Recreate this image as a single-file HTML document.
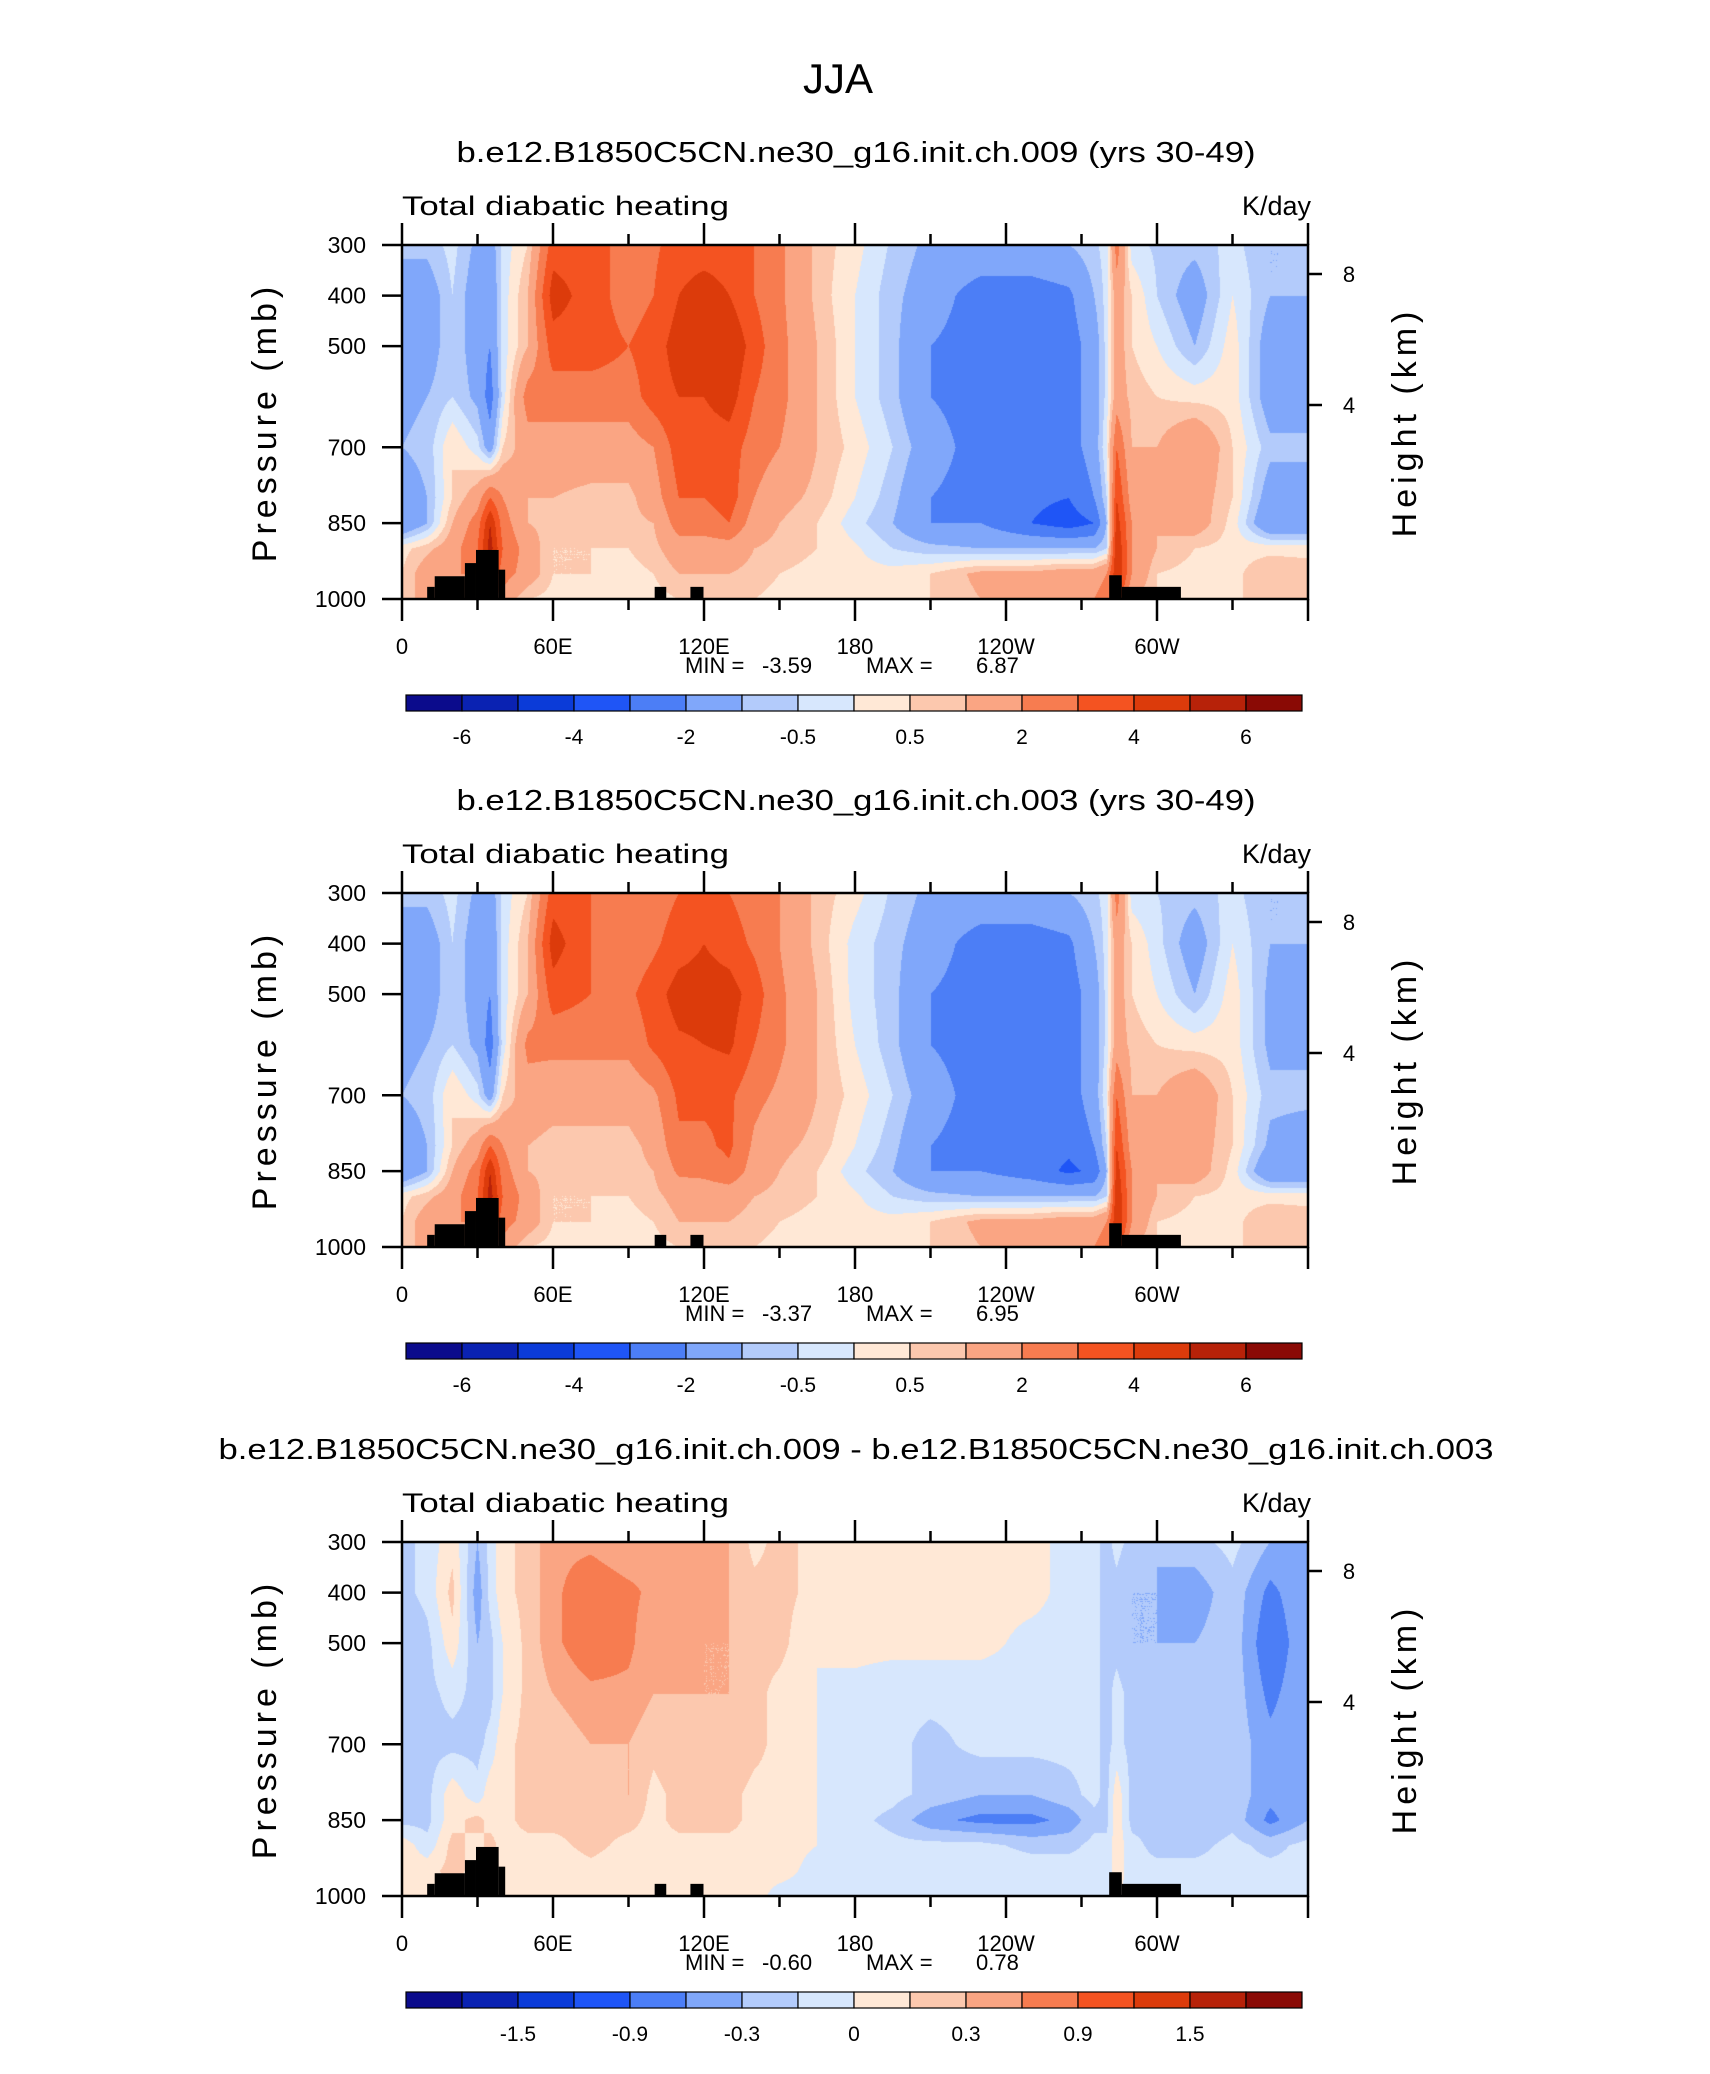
<!DOCTYPE html>
<html><head><meta charset="utf-8"><title>JJA Total diabatic heating</title>
<style>
html,body{margin:0;padding:0;background:#fff;}
#wrap{position:relative;width:1710px;height:2074px;overflow:hidden;background:#fff;}
canvas{position:absolute;}
svg{position:absolute;left:0;top:0;}
text{font-family:"Liberation Sans",sans-serif;fill:#000;}
</style></head>
<body>
<div id="wrap">
<canvas id="c0"></canvas>
<canvas id="c1"></canvas>
<canvas id="c2"></canvas>
<svg id="ov" width="1710" height="2074"></svg>
</div>
<script>
// ---- data ----
const lons = [0,10,20,30,35,40,50,60,75,90,100,110,120,130,140,150,165,180,195,210,230,250,265,275,280,284,290,300,315,330,345,360];
const levels = [300,400,500,600,700,800,850,900,950,1000];
const field009 = [
[-1,-0.8,-0.3,-1.2,-1.5,-0.3,0.5,3.5,3.5,2.5,2.8,3.5,3.5,3.5,3,2.2,0.8,0.2,-0.6,-1.2,-1.2,-1.2,-1,-0.6,-0.3,2.5,-0.3,-0.6,-0.8,-0.3,-1,-1],
[-1,-1.5,-0.5,-1.5,-1.8,-0.3,1,4.5,3.5,2.5,3,4,4.5,4,3,2.2,0.8,0,-0.8,-1.5,-2.5,-2.5,-2.2,-1,-0.3,1.5,0.5,-0.5,-1.5,0,-1,-1],
[-1.5,-1.5,-0.5,-1.5,-2,-0.3,1,3.5,3.5,3,3.5,4.5,4.5,5,3.5,2.3,1,0,-0.8,-2,-2.5,-2.5,-2.5,-1.5,-0.3,1.5,0.5,0,-1,0.3,-1.5,-1.5],
[-1.2,-1,-0.5,-1.2,-2.5,-0.3,2.5,2.5,2.5,2.5,3.5,4,4,4.5,3,2.3,1,0,-0.8,-2,-2.5,-2.5,-2.5,-1.5,-0.3,1.5,0.8,0.5,0.3,0.3,-1.5,-1.5],
[-1,-0.8,0.5,-0.3,-1.5,0.5,1.5,1.5,1.5,1.5,2,3.5,3.5,3.5,2.5,2,1,0.3,-0.5,-1.5,-2.5,-2.5,-2.5,-1.5,0,3,1,1,2,0.5,-0.8,-0.8],
[-1.5,-1,0.5,1.5,3,2,1,1,0.8,0.8,1.5,3,3,3.5,2,1.3,0.8,0,-0.8,-2,-2.5,-2.8,-3,-2,-0.5,4,1.5,1,1.5,0.5,-1.5,-1.5],
[-2,-1,1,2.5,5,2.5,1,0.8,0.5,0.8,1,2.5,2.5,3,1.5,1,0.5,-0.3,-1,-2,-2,-3,-3.5,-3,-1,4.5,2,1,1.5,0.3,-2,-2],
[0.3,0.8,1.5,3,5.5,3,1.5,0.5,0.5,0.5,0.8,1.5,1.5,1.5,1,0.8,0.5,0.1,-0.5,-0.8,-1,-1,-1,-1,-0.5,5,2,1,0.5,0.3,0.3,0.3],
[0.5,1.5,2,2,4,2.5,1.5,0.5,0.5,0.3,0.5,1,1,1,0.8,0.5,0.3,0.2,0.2,0.5,1.2,1.2,1.5,1.5,2,5,2,0.5,0.3,0.3,1,0.8],
[0.5,1.5,2,1.5,2,1.5,0.5,0.3,0.3,0.3,0.3,0.5,0.5,0.5,0.5,0.3,0.3,0.3,0.3,0.5,1,1,1.5,2,2.5,4,1,0.5,0.3,0.3,1,0.5]
];
const field003 = [
[-1,-0.8,-0.3,-1.2,-1.5,-0.3,0.5,3.5,3,2.5,2.5,3,3.5,3,2.5,2,0.8,0.2,-0.6,-1.2,-1.2,-1.2,-1,-0.6,-0.3,2.5,-0.3,-0.5,-0.8,-0.3,-1,-1],
[-1,-1.5,-0.5,-1.5,-1.8,-0.3,1,4.5,3,2.3,2.8,3.5,4,3.5,2.8,2,0.8,-0.2,-0.8,-1.5,-2.5,-2.5,-2.2,-1,-0.3,1.5,0.5,-0.3,-1.5,0,-1,-1],
[-1.5,-1.5,-0.5,-1.5,-2,-0.3,1,3.5,3,2.8,3.5,4.5,4.5,4.5,3.5,2.2,1,-0.2,-0.8,-2,-2.5,-2.5,-2.5,-1.5,-0.3,1.5,0.5,0,-1,0.3,-1.2,-1.2],
[-1.2,-1,-0.5,-1.2,-2.5,-0.3,2.3,2.3,2.3,2.3,3.2,3.8,4,4.2,3,2.2,1,0,-0.8,-2,-2.5,-2.5,-2.5,-1.5,-0.3,1.5,0.8,0.5,0.3,0.3,-1.2,-1.2],
[-1,-0.8,0.5,-0.3,-1.5,0.5,1.5,1.3,1.3,1.3,1.8,3.2,3.2,3.2,2.3,1.8,1,0.3,-0.5,-1.5,-2.5,-2.5,-2.5,-1.5,0,3,1,1,1.8,0.5,-0.8,-0.8],
[-1.5,-1,0.5,1.5,3,2,1,0.8,0.8,0.8,1.2,2.8,2.8,3.2,1.8,1.2,0.8,0,-0.8,-2,-2.5,-2.5,-2.8,-2,-0.5,4,1.5,1,1.5,0.5,-1.2,-1.5],
[-2,-1,1,2.5,5,2.5,1,0.8,0.5,0.8,1,2.2,2.3,2.8,1.5,1,0.5,-0.3,-1,-2,-2,-2.5,-3.2,-2.8,-1,4.5,2,1,1.5,0.3,-2,-2],
[0.3,0.8,1.5,3,5.5,3,1.5,0.5,0.5,0.5,0.8,1.3,1.3,1.3,1,0.8,0.5,0.1,-0.5,-0.8,-1,-1,-1,-1,-0.5,5,2,1,0.5,0.3,0.3,0.3],
[0.5,1.5,2,2,4,2.5,1.5,0.5,0.5,0.3,0.5,1,1,1,0.8,0.5,0.3,0.2,0.2,0.5,1.2,1.2,1.5,1.5,2,5,2,0.5,0.3,0.3,1,0.8],
[0.5,1.5,2,1.5,2,1.5,0.5,0.3,0.3,0.3,0.3,0.5,0.5,0.5,0.5,0.3,0.3,0.3,0.3,0.5,1,1,1.5,2,2.5,4,1,0.5,0.3,0.3,1,0.5]
];
const fieldDiff = [
[-0.2,-0.1,0.1,-0.3,-0.1,0.1,0.2,0.4,0.4,0.3,0.4,0.3,0.3,0.3,0.1,0.2,0.1,0.1,0.05,0.05,0.05,0.05,-0.05,-0.1,-0.2,-0.1,-0.2,-0.3,-0.2,-0.1,-0.3,-0.3],
[-0.2,-0.1,0.2,-0.4,-0.1,0.1,0.2,0.4,0.6,0.5,0.4,0.4,0.4,0.3,0.2,0.2,0.1,0.1,0.05,0.05,0.05,0.05,-0.05,-0.1,-0.2,-0.2,-0.3,-0.3,-0.4,-0.2,-0.5,-0.3],
[-0.3,-0.2,0.1,-0.3,-0.2,0,0.2,0.4,0.6,0.5,0.3,0.4,0.3,0.3,0.2,0.2,0,0.05,0.05,0.05,0.05,-0.05,-0.05,-0.1,-0.2,-0.2,-0.3,-0.3,-0.3,-0.2,-0.6,-0.3],
[-0.3,-0.2,-0.1,-0.2,-0.2,0,0.2,0.3,0.4,0.4,0.3,0.3,0.3,0.3,0.2,0.1,0,-0.05,-0.1,-0.1,-0.1,-0.05,-0.05,-0.1,-0.2,-0.1,-0.2,-0.2,-0.3,-0.2,-0.5,-0.3],
[-0.3,-0.2,-0.2,-0.2,-0.1,0.1,0.2,0.2,0.3,0.3,0.2,0.3,0.2,0.3,0.2,0.1,0,-0.05,-0.1,-0.2,-0.1,-0.1,-0.1,-0.1,-0.2,-0.1,-0.2,-0.2,-0.3,-0.2,-0.4,-0.3],
[-0.2,-0.2,0.1,-0.1,0.1,0.1,0.2,0.2,0.2,0.3,0.1,0.2,0.2,0.2,0.1,0.1,0,-0.05,-0.1,-0.2,-0.3,-0.3,-0.2,-0.1,-0.2,0.1,-0.2,-0.2,-0.3,-0.2,-0.4,-0.3],
[-0.2,-0.2,0.1,0.2,0.1,0.1,0.2,0.2,0.2,0.2,0.1,0.2,0.2,0.2,0.1,0.1,0,-0.1,-0.2,-0.4,-0.5,-0.5,-0.4,-0.2,-0.2,0.1,-0.2,-0.2,-0.3,-0.2,-0.5,-0.3],
[0.1,-0.1,0.2,0.1,0.2,0.1,0.1,0.1,0.2,0.1,0.1,0.1,0.1,0.1,0.1,0.05,0,-0.05,-0.1,-0.1,-0.1,-0.2,-0.2,-0.1,-0.1,0.1,-0.1,-0.2,-0.2,-0.1,-0.2,-0.1],
[0.1,0.1,0.2,0.1,0.1,0.1,0.1,0.05,0.1,0.05,0.05,0.05,0.1,0.1,0.05,0.05,-0.05,-0.05,-0.05,-0.05,-0.05,-0.05,-0.05,-0.1,-0.1,0.1,-0.1,-0.1,-0.1,-0.1,-0.1,-0.1],
[0.05,0.1,0.1,0.05,0.1,0.05,0.05,0.05,0.05,0.05,0.05,0.05,0.05,0.05,0.05,-0.05,-0.05,-0.05,-0.05,-0.05,-0.05,-0.05,-0.05,-0.05,-0.1,0.05,-0.1,-0.1,-0.1,-0.1,-0.1,-0.1]
];
const topoLonStart = [10,13,25,29.4,38.4,100.4,114.6,281,286];
const topoLonEnd   = [13,25,29.4,38.4,41,105,119.8,286,309.5];
const topoPress    = [976,955,929,903,942,976,976,953,976];
const boundsFull = [-6,-5,-4,-3,-2,-1,-0.5,0,0.5,1,2,3,4,5,6];
const boundsDiff = [-1.05,-0.9,-0.75,-0.6,-0.45,-0.3,-0.15,0,0.15,0.3,0.45,0.6,0.75,0.9,1.05];
const labelsFull = ["-6","-4","-2","-0.5","0.5","2","4","6"];
const labelsDiff = ["-1.5","-0.9","-0.3","0","0.3","0.9","1.5"];
const xTickLabels = ["0","60E","120E","180","120W","60W"];
const xTickLons = [0,60,120,180,240,300];
const pTickLabels = [300,400,500,700,850,1000];
const hTickLabels = ["8","4"];
const titles = ["b.e12.B1850C5CN.ne30_g16.init.ch.009 (yrs 30-49)","b.e12.B1850C5CN.ne30_g16.init.ch.003 (yrs 30-49)","b.e12.B1850C5CN.ne30_g16.init.ch.009 - b.e12.B1850C5CN.ne30_g16.init.ch.003"];
const minVals = ["-3.59","-3.37","-0.60"];
const maxVals = ["6.87","6.95","0.78"];
const colors = ["#0b0b8c","#0a22b2","#0b3bd8","#1f55f6","#4c7ef6","#80a7fa","#b3cbfb","#d7e7fd","#ffe8d6","#fcc8ae","#faa583","#f77c50","#f45321","#dc3b0b","#b72209","#8a0a05"];

// ---- layout ----
const PL=402, PW=906, PH=354;
const tops=[245,893,1542];
const fields=[field009,field003,fieldDiff];
const NS="http://www.w3.org/2000/svg";
const ov=document.getElementById('ov');
function xOf(lon){return PL+lon/360*PW;}
function yOf(p,top){return top+(p-300)/700*PH;}
function mk(tag,attrs,parent){const e=document.createElementNS(NS,tag);for(const k in attrs)e.setAttribute(k,attrs[k]);(parent||ov).appendChild(e);return e;}
function hexRgb(h){return [parseInt(h.substr(1,2),16),parseInt(h.substr(3,2),16),parseInt(h.substr(5,2),16)];}
const rgb=colors.map(hexRgb);
function colorIdx(v,b){let i=0;while(i<b.length&&v>=b[i])i++;return i;}
function sample(f,lon,p){
  let i=0;while(i<lons.length-2&&lon>lons[i+1])i++;
  let j=0;while(j<levels.length-2&&p>levels[j+1])j++;
  const tx=Math.min(1,Math.max(0,(lon-lons[i])/(lons[i+1]-lons[i])));
  const ty=Math.min(1,Math.max(0,(p-levels[j])/(levels[j+1]-levels[j])));
  const g=(r,c)=>{const row=f[r]||f[f.length-1];return row[c]!==undefined?row[c]:row[row.length-1];};
  return (1-tx)*(1-ty)*g(j,i)+tx*(1-ty)*g(j,i+1)+(1-tx)*ty*g(j+1,i)+tx*ty*g(j+1,i+1);
}

const T=mk('text',{x:838,y:93,'font-size':42,'text-anchor':'middle'});
T.textContent='JJA';



for(let k=0;k<3;k++){
  const top=tops[k], bot=top+PH, b=k<2?boundsFull:boundsDiff, f=fields[k];
  const cv=document.getElementById('c'+k);
  cv.width=PW;cv.height=PH;cv.style.left=PL+'px';cv.style.top=top+'px';
  const ctx=cv.getContext('2d');const im=ctx.createImageData(PW,PH);
  for(let py=0;py<PH;py++){const p=300+(py+0.5)/PH*700;
    for(let px=0;px<PW;px++){const lon=(px+0.5)/PW*360;
      const c=rgb[colorIdx(sample(f,lon,p),b)];const o=(py*PW+px)*4;
      im.data[o]=c[0];im.data[o+1]=c[1];im.data[o+2]=c[2];im.data[o+3]=255;}}
  ctx.putImageData(im,0,0);
  const g=mk('g',{});
  
  
  for(let t=0;t<topoLonStart.length;t++){
    const r=mk('rect',{x:xOf(topoLonStart[t]),y:yOf(topoPress[t],top),width:xOf(topoLonEnd[t])-xOf(topoLonStart[t]),height:bot-yOf(topoPress[t],top),fill:'#000'},g);
    
    
  }
  const fr=mk('rect',{x:PL,y:top,width:PW,height:PH,fill:'none',stroke:'#000','stroke-width':2.5},g);
  
  
  const tt=mk('text',{x:856,y:top-83,'font-size':29,'text-anchor':'middle',textLength:k<2?799:1275,lengthAdjust:'spacingAndGlyphs'},g);
  tt.textContent=titles[k];
  
  
  const ls=mk('text',{x:402,y:top-30,'font-size':27,textLength:327,lengthAdjust:'spacingAndGlyphs'},g);
  ls.textContent='Total diabatic heating';
  
  
  const rs=mk('text',{x:1311,y:top-30,'font-size':27,'text-anchor':'end'},g);
  rs.textContent='K/day';
  
  
  for(let lon=0;lon<=360;lon+=30){
    const maj=lon%60===0, L=maj?22:11, x=xOf(lon);
    mk('line',{x1:x,y1:bot,x2:x,y2:bot+L,stroke:'#000','stroke-width':2.5},g);
    mk('line',{x1:x,y1:top,x2:x,y2:top-L,stroke:'#000','stroke-width':2.5},g);
  }
  for(let i=0;i<xTickLabels.length;i++){
    const xl=mk('text',{x:xOf(xTickLons[i]),y:bot+55,'font-size':22,'text-anchor':'middle'},g);
    xl.textContent=xTickLabels[i];
    
    
  }
  for(let i=0;i<pTickLabels.length;i++){
    const y=yOf(pTickLabels[i],top);
    mk('line',{x1:PL-20,y1:y,x2:PL,y2:y,stroke:'#000','stroke-width':2.5},g);
    const yl=mk('text',{x:366,y:y+8,'font-size':23,'text-anchor':'end'},g);
    yl.textContent=pTickLabels[i];
    
    
  }
  const hy=[top+29,top+160];
  for(let i=0;i<2;i++){
    mk('line',{x1:PL+PW,y1:hy[i],x2:PL+PW+14,y2:hy[i],stroke:'#000','stroke-width':2.5},g);
    const hl=mk('text',{x:1349,y:hy[i]+8,'font-size':22,'text-anchor':'middle'},g);
    hl.textContent=hTickLabels[i];
    
    
  }
  const ya=mk('text',{x:0,y:0,'font-size':34,'text-anchor':'middle','letter-spacing':'5',transform:'translate(276,'+(top+177)+') rotate(-90)'},g);
  ya.textContent='Pressure (mb)';
  
  
  const ya2=mk('text',{x:0,y:0,'font-size':34,'text-anchor':'middle','letter-spacing':'5',transform:'translate(1416,'+(top+177)+') rotate(-90)'},g);
  ya2.textContent='Height (km)';
  
  
  const mmg=mk('g',{},g);
  
  
  const mmParts=[['MIN =',685],[minVals[k],762],['MAX =',866],[maxVals[k],976]];
  for(const [s,x] of mmParts){const t=mk('text',{x:x,y:bot+74,'font-size':22},mmg);t.textContent=s;}
  const cbx=406, cbw=896, cby=bot+96, cbh=16, bw=cbw/16;
  const cb=mk('g',{},g);
  
  
  for(let i=0;i<16;i++){
    const r=mk('rect',{x:cbx+i*bw,y:cby,width:bw,height:cbh,fill:colors[i],stroke:'#000','stroke-width':1.2},cb);
    
    
  }
  const labs=k<2?labelsFull:labelsDiff, first=k<2?1:2;
  for(let i=0;i<labs.length;i++){
    const cl=mk('text',{x:cbx+(first+2*i)*bw,y:cby+49,'font-size':21,'text-anchor':'middle'},cb);
    cl.textContent=labs[i];
    
    
  }
}
</script>
</body></html>
